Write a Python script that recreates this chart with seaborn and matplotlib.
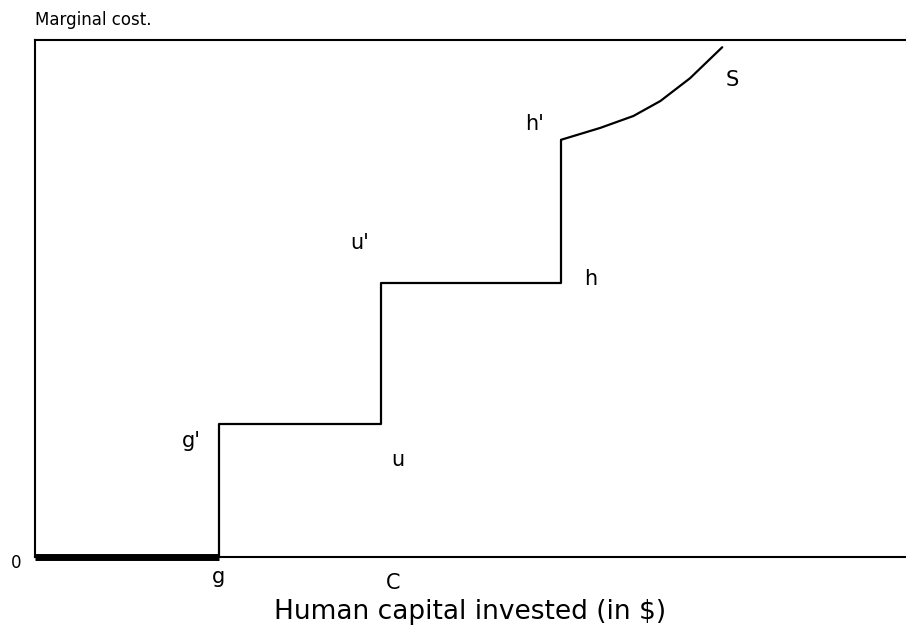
import matplotlib
matplotlib.use("Agg")
import matplotlib.pyplot as plt
import seaborn as sns
import pandas as pd

# step path of marginal cost (g -> g' -> u -> u' -> h -> h')
step_x = [2.11, 2.11, 3.97, 3.97, 6.04, 6.04]
step_y = [0.0, 2.57, 2.57, 5.30, 5.30, 8.07]
# rising supply curve from h' to S
curve_x = [6.04, 6.49, 6.87, 7.18, 7.52, 7.89]
curve_y = [8.07, 8.30, 8.53, 8.82, 9.26, 9.86]
# thick zero-cost segment from origin to g
base_x = [0.0, 2.11]
base_y = [0.0, 0.0]

point_labels = ["g", "C", "g'", "u", "u'", "h", "h'", "S"]

sns.set_theme(style="white")
plt.rcParams['font.family'] = ['DejaVu Sans']

fig = plt.figure(figsize=(9.06, 6.43), dpi=100)
ax = fig.add_axes([35 / 906, 86 / 643, 871 / 906, 517 / 643])

df_step = pd.DataFrame({"x": step_x, "y": step_y})
df_curve = pd.DataFrame({"x": curve_x, "y": curve_y})
df_base = pd.DataFrame({"x": base_x, "y": base_y})

sns.lineplot(data=df_step, x="x", y="y", sort=False, estimator=None,
             color="black", lw=1.6, ax=ax)
sns.lineplot(data=df_curve, x="x", y="y", sort=False, estimator=None,
             color="black", lw=1.6, ax=ax)
sns.lineplot(data=df_base, x="x", y="y", sort=False, estimator=None,
             color="black", lw=5, ax=ax, clip_on=False, solid_capstyle="butt")

ax.set_xlim(0, 10)
ax.set_ylim(0, 10)
ax.set_xticks([])
ax.set_yticks([])
ax.set_xlabel("")
ax.set_ylabel("")
for side in ["left", "top", "bottom"]:
    ax.spines[side].set_color("black")
    ax.spines[side].set_linewidth(1.5)
ax.spines["right"].set_visible(False)

fs = 15
pos = {
    "g": (2.11, -0.2, "center", "top"),
    "C": (4.11, -0.3, "center", "top"),
    "g'": (1.80, 2.25, "center", "center"),
    "u": (4.17, 1.88, "center", "center"),
    "u'": (3.73, 6.08, "center", "center"),
    "h": (6.38, 5.38, "center", "center"),
    "h'": (5.73, 8.38, "center", "center"),
    "S": (8.01, 9.23, "center", "center"),
}
for lab in point_labels:
    x, y, ha, va = pos[lab]
    ax.text(x, y, lab, fontsize=fs, ha=ha, va=va, color="black")

ax.text(-0.16, -0.12, "0", fontsize=12, ha="right", va="center", color="black")

fig.text(35 / 906, 1 - 20 / 643, "Marginal cost.", fontsize=12,
         ha="left", va="center", color="black")
fig.text(470 / 906, 1 - 612 / 643, "Human capital invested (in $)", fontsize=19,
         ha="center", va="center", color="black")

fig.savefig("out.png", dpi=100)
